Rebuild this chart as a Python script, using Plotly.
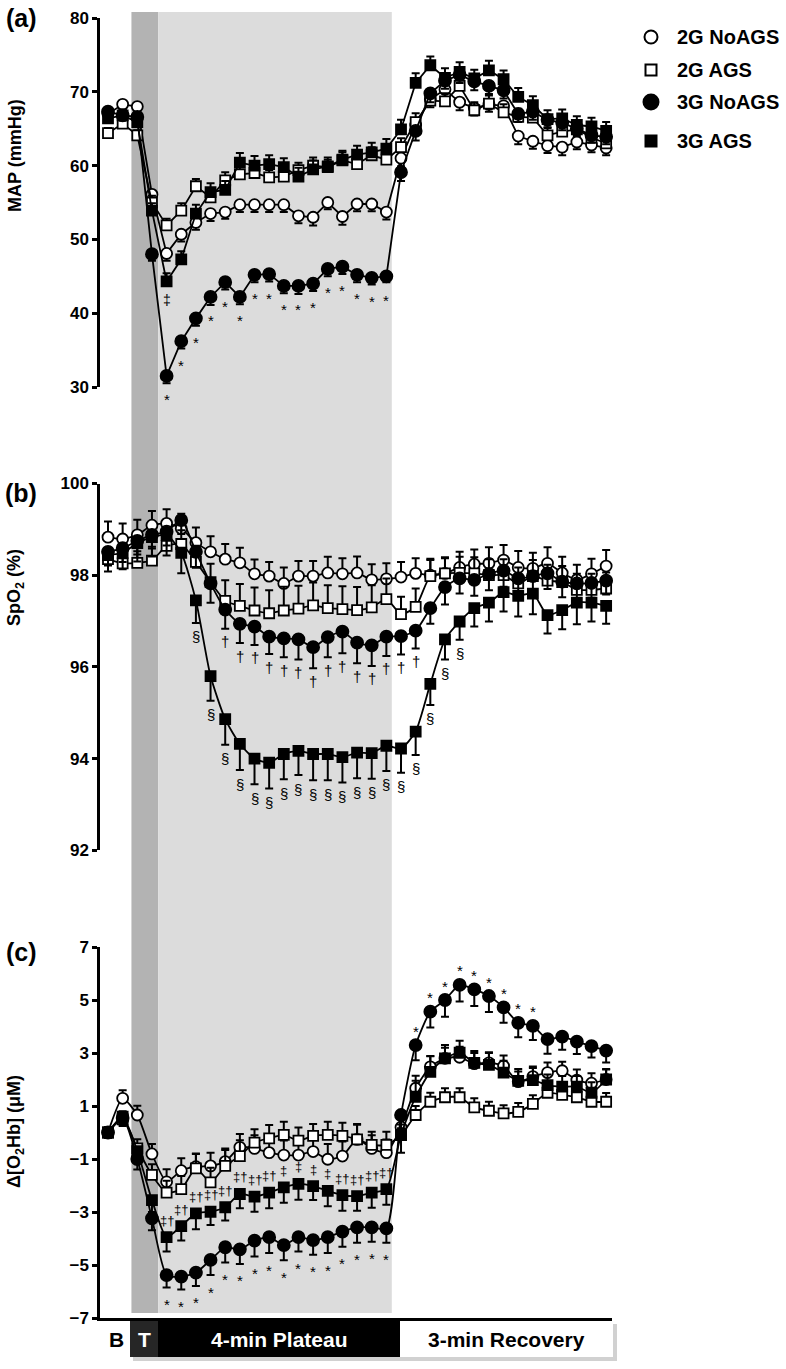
import plotly.graph_objects as go

# ---------------- data ----------------
samples = [0, 1, 2, 3, 4, 5, 6, 7, 8, 9, 10, 11, 12, 13, 14, 15, 16, 17,
           18, 19, 20, 21, 22, 23, 24, 25, 26, 27, 28, 29, 30, 31, 32, 33, 34]

series_names = ["2G NoAGS", "2G AGS", "3G NoAGS", "3G AGS"]

map_2g_noags = [67.0, 68.3, 68.0, 56.1, 48.1, 50.7, 52.3, 53.5, 53.7, 54.7, 54.7, 54.7, 54.7, 53.2, 53.0, 55.0, 53.1, 54.8,
                54.8, 53.7, 61.0, 65.5, 69.0, 70.3, 68.6, 67.8, 68.3, 68.1, 64.0, 63.3, 62.7, 62.5, 63.2, 62.8, 62.4]
map_2g_ags = [64.4, 65.7, 64.1, 55.0, 51.9, 53.9, 57.2, 55.7, 58.0, 58.8, 59.0, 58.4, 58.5, 59.4, 60.0, 59.8, 60.7, 60.2,
              61.4, 60.8, 62.5, 65.9, 68.8, 68.7, 70.8, 67.5, 68.4, 67.2, 66.6, 66.5, 64.1, 64.6, 64.9, 63.8, 63.0]
map_3g_noags = [67.3, 66.8, 66.6, 48.0, 31.5, 36.2, 39.3, 42.2, 44.2, 42.2, 45.2, 45.3, 43.7, 43.7, 44.0, 46.0, 46.3, 45.2,
                44.8, 45.0, 59.1, 64.7, 69.8, 71.5, 72.3, 71.4, 70.8, 70.2, 67.0, 67.3, 66.2, 65.8, 65.0, 64.1, 63.9]
map_3g_ags = [66.4, 66.8, 65.9, 53.9, 44.3, 47.3, 53.5, 56.4, 56.7, 60.4, 60.0, 60.2, 59.8, 58.5, 59.5, 59.9, 60.8, 61.5,
              61.8, 62.3, 64.9, 71.2, 73.6, 71.9, 72.7, 71.8, 72.9, 71.7, 69.3, 68.2, 66.3, 66.4, 65.5, 65.3, 64.7]

err_map_2g_noags = [0.6, 0.6, 0.6, 0.9, 1.0, 1.0, 1.0, 1.0, 0.9, 1.0, 1.0, 1.0, 1.0, 1.0, 1.1, 0.9, 1.1, 1.0,
                    1.0, 1.0, 1.1, 1.2, 1.1, 1.0, 1.1, 1.0, 1.0, 1.0, 1.1, 1.0, 1.0, 1.1, 1.0, 1.0, 1.0]
err_map_2g_ags = [0.7, 0.7, 0.7, 0.9, 0.9, 1.0, 1.0, 1.0, 1.1, 1.1, 1.1, 1.0, 1.1, 1.0, 1.1, 1.0, 1.1, 1.0,
                  1.1, 1.1, 1.2, 1.2, 1.1, 1.1, 1.2, 1.1, 1.1, 1.1, 1.1, 1.2, 1.1, 1.1, 1.1, 1.1, 1.1]
err_map_3g_noags = [0.7, 0.7, 0.7, 0.9, 1.0, 1.0, 1.0, 1.1, 1.0, 1.0, 1.0, 1.0, 1.0, 1.1, 1.0, 1.0, 1.0, 1.0,
                    0.9, 0.8, 1.2, 1.3, 1.2, 1.1, 1.1, 1.2, 1.1, 1.1, 1.1, 1.1, 1.1, 1.0, 1.0, 1.0, 1.0]
err_map_3g_ags = [0.8, 0.8, 0.8, 1.0, 1.1, 1.1, 1.2, 1.2, 1.2, 1.3, 1.3, 1.2, 1.2, 1.2, 1.2, 1.2, 1.2, 1.2,
                  1.3, 1.3, 1.3, 1.3, 1.2, 1.3, 1.3, 1.2, 1.3, 1.2, 1.2, 1.2, 1.2, 1.2, 1.2, 1.2, 1.2]

spo2_2g_noags = [98.83, 98.79, 98.88, 99.09, 99.13, 99.02, 98.71, 98.51, 98.35, 98.27, 98.03, 97.98, 97.82, 97.98, 97.98,
                 98.05, 98.03, 98.05, 97.90, 97.92, 97.96, 98.04, 98.00, 98.04, 98.17, 98.24, 98.26, 98.33, 98.17, 98.15,
                 98.26, 98.05, 97.90, 98.03, 98.20]
spo2_2g_ags = [98.35, 98.26, 98.27, 98.32, 98.64, 98.68, 98.29, 97.85, 97.44, 97.33, 97.23, 97.17, 97.23, 97.27, 97.34,
               97.28, 97.26, 97.24, 97.30, 97.48, 97.15, 97.31, 97.98, 98.04, 98.05, 98.04, 98.00, 98.00, 97.82, 97.98,
               97.88, 97.85, 97.68, 97.68, 97.71]
spo2_3g_noags = [98.51, 98.59, 98.75, 98.88, 98.95, 99.20, 98.51, 97.82, 97.25, 96.94, 96.88, 96.66, 96.62, 96.60, 96.43,
                 96.65, 96.77, 96.53, 96.47, 96.66, 96.67, 96.79, 97.28, 97.74, 97.93, 97.90, 98.03, 98.10, 97.93, 97.98,
                 98.04, 97.86, 97.82, 97.83, 97.88]
spo2_3g_ags = [98.44, 98.49, 98.70, 98.83, 98.88, 98.49, 97.45, 95.80, 94.86, 94.32, 94.00, 93.91, 94.10, 94.17, 94.10,
               94.10, 94.03, 94.13, 94.12, 94.28, 94.22, 94.59, 95.63, 96.60, 96.99, 97.28, 97.40, 97.63, 97.55, 97.60,
               97.13, 97.24, 97.40, 97.40, 97.33]

err_spo2_2g_noags = [0.34, 0.34, 0.33, 0.31, 0.31, 0.32, 0.33, 0.34, 0.33, 0.33, 0.31, 0.31, 0.35, 0.33, 0.33, 0.35, 0.34,
                     0.36, 0.34, 0.34, 0.33, 0.33, 0.33, 0.33, 0.34, 0.32, 0.35, 0.33, 0.36, 0.34, 0.35, 0.35, 0.33,
                     0.33, 0.35]
err_spo2_2g_ags = [0.25, 0.25, 0.25, 0.30, 0.30, 0.30, 0.35, 0.40, 0.45, 0.48, 0.50, 0.50, 0.52, 0.50, 0.50, 0.50, 0.50,
                   0.50, 0.48, 0.45, 0.38, 0.40, 0.38, 0.35, 0.35, 0.35, 0.35, 0.35, 0.35, 0.35, 0.35, 0.35, 0.35,
                   0.35, 0.35]
err_spo2_3g_noags = [0.30, 0.30, 0.30, 0.30, 0.30, 0.30, 0.35, 0.42, 0.42, 0.42, 0.40, 0.38, 0.41, 0.44, 0.46, 0.44,
                     0.47, 0.45, 0.45, 0.42, 0.40, 0.39, 0.34, 0.38, 0.33, 0.35, 0.36, 0.35, 0.35, 0.34, 0.34, 0.34,
                     0.32, 0.32, 0.30]
err_spo2_3g_ags = [0.36, 0.36, 0.40, 0.42, 0.45, 0.45, 0.49, 0.54, 0.56, 0.57, 0.56, 0.56, 0.55, 0.53, 0.57, 0.57, 0.55,
                   0.56, 0.56, 0.55, 0.53, 0.51, 0.46, 0.44, 0.40, 0.40, 0.41, 0.42, 0.45, 0.45, 0.40, 0.42, 0.47,
                   0.41, 0.39]

o2hb_2g_noags = [0.00, 1.29, 0.66, -0.81, -1.86, -1.44, -1.29, -1.26, -1.10, -0.56, -0.60, -0.76, -0.85, -0.85, -0.72,
                 -1.01, -0.89, -0.26, -0.60, -0.76, 0.20, 1.67, 2.48, 2.80, 2.84, 2.60, 2.63, 2.51, 1.92, 2.11, 2.26,
                 2.33, 1.98, 1.86, 2.00]
o2hb_2g_ags = [0.00, 0.50, -0.60, -1.60, -2.27, -2.14, -1.35, -1.88, -1.26, -0.89, -0.38, -0.22, -0.09, -0.31, -0.13,
               -0.09, -0.13, -0.26, -0.47, -0.47, -0.10, 0.66, 1.16, 1.33, 1.33, 0.95, 0.82, 0.72, 0.78, 1.08, 1.50,
               1.42, 1.33, 1.16, 1.16]
o2hb_3g_noags = [0.00, 0.55, -1.00, -3.24, -5.38, -5.44, -5.29, -4.81, -4.33, -4.41, -4.08, -3.95, -4.25, -3.95, -4.06,
                 -3.95, -3.74, -3.58, -3.58, -3.62, 0.66, 3.30, 4.56, 5.00, 5.57, 5.40, 5.15, 4.72, 4.14, 4.02, 3.52,
                 3.62, 3.43, 3.26, 3.09]
o2hb_3g_ags = [0.00, 0.60, -0.70, -2.55, -3.95, -3.53, -3.05, -2.99, -2.82, -2.32, -2.42, -2.27, -2.07, -1.94, -2.02,
               -2.20, -2.36, -2.40, -2.27, -2.14, -0.09, 1.35, 2.29, 2.80, 3.01, 2.63, 2.55, 2.26, 1.95, 1.98, 1.79,
               1.73, 1.73, 1.50, 2.00]

err_o2hb_2g_noags = [0.20, 0.30, 0.35, 0.38, 0.47, 0.47, 0.50, 0.50, 0.50, 0.50, 0.50, 0.50, 0.55, 0.55, 0.50, 0.58,
                     0.55, 0.55, 0.50, 0.50, 0.45, 0.47, 0.40, 0.40, 0.40, 0.40, 0.40, 0.40, 0.38, 0.38, 0.38, 0.34,
                     0.40, 0.38, 0.38]
err_o2hb_2g_ags = [0.20, 0.30, 0.35, 0.40, 0.45, 0.50, 0.54, 0.55, 0.60, 0.60, 0.50, 0.50, 0.50, 0.50, 0.45, 0.50,
                   0.50, 0.58, 0.50, 0.50, 0.40, 0.34, 0.34, 0.34, 0.34, 0.34, 0.34, 0.31, 0.33, 0.33, 0.35, 0.33,
                   0.33, 0.33, 0.33]
err_o2hb_3g_noags = [0.20, 0.30, 0.40, 0.45, 0.47, 0.48, 0.50, 0.57, 0.58, 0.55, 0.60, 0.60, 0.57, 0.54, 0.55, 0.60,
                     0.57, 0.58, 0.54, 0.54, 0.50, 0.57, 0.60, 0.63, 0.63, 0.63, 0.60, 0.58, 0.55, 0.53, 0.55, 0.50,
                     0.47, 0.43, 0.45]
err_o2hb_3g_ags = [0.20, 0.30, 0.40, 0.45, 0.54, 0.55, 0.60, 0.50, 0.50, 0.54, 0.57, 0.59, 0.58, 0.60, 0.53, 0.58,
                   0.59, 0.55, 0.57, 0.59, 0.67, 0.60, 0.60, 0.50, 0.45, 0.45, 0.45, 0.45, 0.45, 0.45, 0.40, 0.40,
                   0.40, 0.40, 0.40]

# significance markers (sample indices)
map_star_idx = [4, 5, 6, 7, 8, 9, 10, 11, 12, 13, 14, 15, 16, 17, 18, 19]
map_ddag_idx = [4]
spo2_sect_idx = [6, 7, 8, 9, 10, 11, 12, 13, 14, 15, 16, 17, 18, 19, 20, 21, 22, 23, 24]
spo2_dag_idx = [8, 9, 10, 11, 12, 13, 14, 15, 16, 17, 18, 19, 20, 21]
o2hb_star_low_idx = [4, 5, 6, 7, 8, 9, 10, 11, 12, 13, 14, 15, 16, 17, 18, 19]
o2hb_star_high_idx = [21, 22, 23, 24, 25, 26, 27, 28, 29]
o2hb_mark_idx = [4, 5, 6, 7, 8, 9, 10, 11, 12, 13, 14, 15, 16, 17, 18, 19]
o2hb_mark_txt = ["‡†", "‡†", "‡†", "‡†", "‡†", "‡†", "‡†", "‡†", "‡", "‡", "‡", "‡", "‡†", "‡†", "‡†", "‡†"]

phase_labels = ["B", "T", "4-min Plateau", "3-min Recovery"]
y_ticks_map = [30, 40, 50, 60, 70, 80]
y_ticks_spo2 = [92, 94, 96, 98, 100]
y_ticks_o2hb = [-7, -5, -3, -1, 1, 3, 5, 7]

# ---------------- layout helpers ----------------
W, H = 786, 1369
ML, MR = 100, 174
PW = W - ML - MR
FONT = "Liberation Sans, Arial, Helvetica, sans-serif"


def px(xp):
    return (xp - ML) / PW


def py(yp):
    return 1 - yp / H


styles = {
    "2G NoAGS": dict(symbol="circle", color="white", size=11),
    "2G AGS": dict(symbol="square", color="white", size=10),
    "3G NoAGS": dict(symbol="circle", color="black", size=12),
    "3G AGS": dict(symbol="square", color="black", size=10),
}

fig = go.Figure()


def add(name, y, up, down, axis_n):
    st = styles[name]
    fig.add_trace(go.Scatter(
        x=samples, y=y, mode="lines+markers", name=name, showlegend=False,
        xaxis="x" if axis_n == 1 else f"x{axis_n}",
        yaxis="y" if axis_n == 1 else f"y{axis_n}",
        line=dict(color="black", width=1.8, shape="spline" if axis_n > 1 else "linear", smoothing=0.6),
        marker=dict(symbol=st["symbol"], size=st["size"], color=st["color"],
                    line=dict(color="black", width=1.8)),
        error_y=dict(type="data", symmetric=False, array=up, arrayminus=down,
                     color="black", thickness=2, width=4),
        cliponaxis=False,
    ))


zeros = [0] * len(samples)
# panel a
add("2G NoAGS", map_2g_noags, zeros, err_map_2g_noags, 1)
add("2G AGS", map_2g_ags, err_map_2g_ags, zeros, 1)
add("3G NoAGS", map_3g_noags, zeros, err_map_3g_noags, 1)
add("3G AGS", map_3g_ags, err_map_3g_ags, zeros, 1)
# panel b
add("2G NoAGS", spo2_2g_noags, err_spo2_2g_noags, zeros, 2)
add("2G AGS", spo2_2g_ags, err_spo2_2g_ags, zeros, 2)
add("3G NoAGS", spo2_3g_noags, zeros, err_spo2_3g_noags, 2)
add("3G AGS", spo2_3g_ags, zeros, err_spo2_3g_ags, 2)
# panel c
add("2G NoAGS", o2hb_2g_noags, err_o2hb_2g_noags, zeros, 3)
add("2G AGS", o2hb_2g_ags, err_o2hb_2g_ags, zeros, 3)
add("3G NoAGS", o2hb_3g_noags, zeros, err_o2hb_3g_noags, 3)
ags_up = [e if i >= 21 else 0 for i, e in enumerate(err_o2hb_3g_ags)]
ags_dn = [e if i < 21 else 0 for i, e in enumerate(err_o2hb_3g_ags)]
add("3G AGS", o2hb_3g_ags, ags_up, ags_dn, 3)

annotations = []


def mark(text, x, y, axis_n, yshift, size=14):
    annotations.append(dict(
        text=text, x=x, y=y, xref="x" if axis_n == 1 else f"x{axis_n}",
        yref="y" if axis_n == 1 else f"y{axis_n}", showarrow=False, yshift=yshift,
        font=dict(family=FONT, size=size, color="black"), xanchor="center", yanchor="middle"))


for i in map_star_idx:
    mark("*", samples[i], map_3g_noags[i], 1, -24, 15)
for i in map_ddag_idx:
    mark("‡", samples[i], map_3g_ags[i], 1, -19, 14)
for i in spo2_sect_idx:
    mark("§", samples[i], spo2_3g_ags[i] - err_spo2_3g_ags[i], 2, -14, 15)
for i in spo2_dag_idx:
    mark("†", samples[i], spo2_3g_noags[i] - err_spo2_3g_noags[i], 2, -13, 15)
for i in o2hb_star_low_idx:
    mark("*", samples[i], o2hb_3g_noags[i] - err_o2hb_3g_noags[i], 3, -17, 15)
for i in o2hb_star_high_idx:
    mark("*", samples[i], o2hb_3g_noags[i], 3, 14, 15)
for i, t in zip(o2hb_mark_idx, o2hb_mark_txt):
    mark(t, samples[i], o2hb_3g_ags[i], 3, 17, 13)


def label(text, xp, yp, size, color="black", angle=0, xanchor="center"):
    annotations.append(dict(
        text=text, x=px(xp), y=py(yp), xref="paper", yref="paper", showarrow=False,
        textangle=angle, xanchor=xanchor, yanchor="middle",
        font=dict(family=FONT, size=size, color=color, weight="bold")))


# axis titles & panel labels
label("MAP (mmHg)", 15, 156, 18, angle=-90)
label("SpO<sub>2</sub> (%)", 15, 588, 18, angle=-90)
label("Δ[O<sub>2</sub>Hb] (μM)", 15, 1132, 18, angle=-90)
label("(a)", 21, 18, 25)
label("(b)", 21, 493, 25)
label("(c)", 21, 952, 25)

# phase bar labels
label(phase_labels[0], 116, 1339, 21)
label(phase_labels[1], 144, 1339, 21, color="white")
label(phase_labels[2], 279, 1339, 21, color="white")
label(phase_labels[3], 506, 1339, 21)

# legend
leg_y = [37, 70, 102, 141]
for name, yy in zip(series_names, leg_y):
    label(name, 675, yy, 20, xanchor="left")

shapes = []
# shaded phases
shapes.append(dict(type="rect", xref="x", yref="paper", x0=1.6, x1=3.43, y0=py(1313), y1=py(12),
                   fillcolor="#b3b3b3", line=dict(width=0), layer="below"))
shapes.append(dict(type="rect", xref="x", yref="paper", x0=3.43, x1=19.37, y0=py(1313), y1=py(12),
                   fillcolor="#dcdcdc", line=dict(width=0), layer="below"))
# phase bar
shapes.append(dict(type="rect", xref="paper", yref="paper", x0=px(133), x1=px(617), y0=py(1361), y1=py(1324),
                   fillcolor="rgba(0,0,0,0.18)", line=dict(width=0)))
shapes.append(dict(type="rect", xref="paper", yref="paper", x0=px(130), x1=px(158), y0=py(1357), y1=py(1321),
                   fillcolor="#262626", line=dict(width=0)))
shapes.append(dict(type="rect", xref="paper", yref="paper", x0=px(158), x1=px(400), y0=py(1357), y1=py(1321),
                   fillcolor="black", line=dict(width=0)))
shapes.append(dict(type="rect", xref="paper", yref="paper", x0=px(400), x1=px(613), y0=py(1357), y1=py(1321),
                   fillcolor="white", line=dict(width=0)))
# legend markers
for name, yy in zip(series_names, leg_y):
    st = styles[name]
    r = 6.5 if st["symbol"] == "circle" else 5.5
    if name == "3G NoAGS":
        r = 7.5
    shapes.append(dict(type="circle" if st["symbol"] == "circle" else "rect",
                       xref="paper", yref="paper", xsizemode="pixel", ysizemode="pixel",
                       xanchor=px(651), yanchor=py(yy), x0=-r, x1=r, y0=-r, y1=r,
                       fillcolor=st["color"], line=dict(color="black", width=2)))

xr = [-0.546, 34.4]
common_x = dict(range=xr, showgrid=False, zeroline=False, showticklabels=False, ticks="", domain=[0, 1])
common_y = dict(showgrid=False, zeroline=False, showline=True, linecolor="black", linewidth=2.5,
                ticks="outside", ticklen=5, tickwidth=2.5, tickcolor="black",
                tickfont=dict(family=FONT, size=17, color="black", weight="bold"))

fig.update_layout(
    width=W, height=H,
    margin=dict(l=ML, r=MR, t=0, b=0, pad=0, autoexpand=False),
    paper_bgcolor="white", plot_bgcolor="rgba(0,0,0,0)",
    showlegend=False,
    xaxis=dict(**common_x, anchor="y", showline=False),
    xaxis2=dict(**common_x, anchor="y2", showline=False),
    xaxis3=dict(**common_x, anchor="y3", showline=True, linecolor="black", linewidth=2.5),
    yaxis=dict(**common_y, anchor="x", domain=[py(387), py(18)], range=[30, 80], tickvals=y_ticks_map),
    yaxis2=dict(**common_y, anchor="x2", domain=[py(850.3), py(483.5)], range=[92, 100], tickvals=y_ticks_spo2),
    yaxis3=dict(**common_y, anchor="x3", domain=[py(1318), py(947)], range=[-7, 7], tickvals=y_ticks_o2hb),
    annotations=annotations,
    shapes=shapes,
)

fig.write_html("out.html", config={"displayModeBar": False},
               post_script="document.body.style.margin='0px';document.body.style.overflow='hidden';")
